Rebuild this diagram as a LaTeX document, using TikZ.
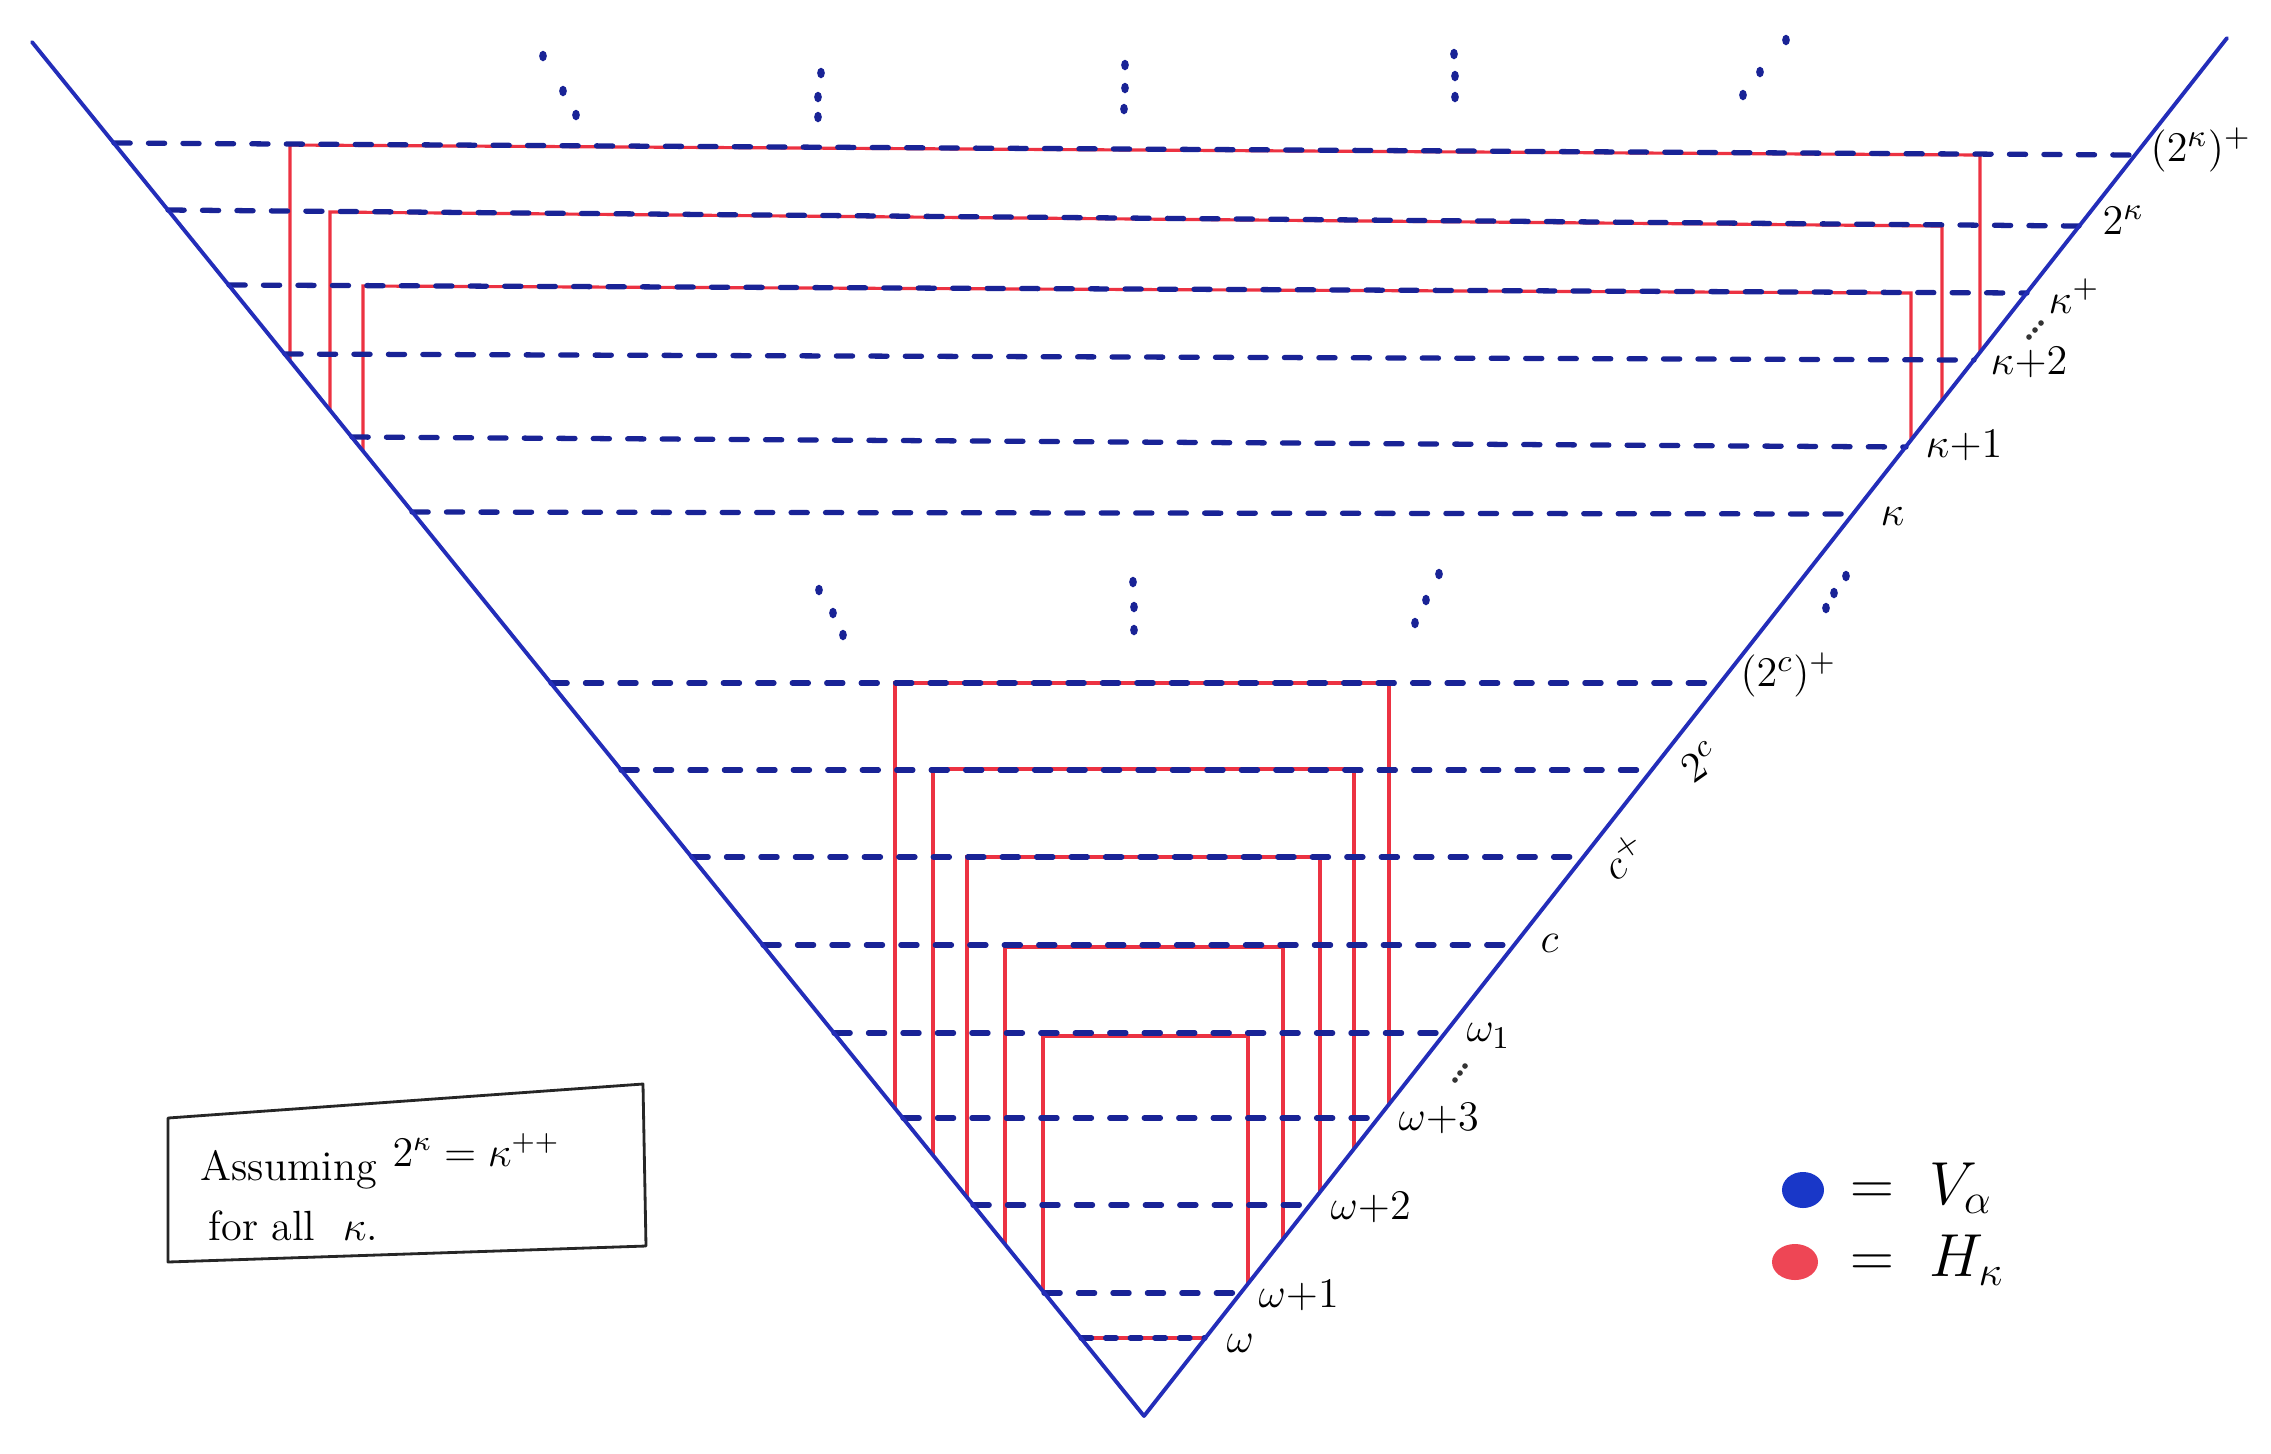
\documentclass[tikz,border=0pt]{standalone}
\definecolor{vline}{RGB}{35,45,185}
\definecolor{dashc}{RGB}{25,35,150}
\definecolor{redc}{RGB}{236,50,66}
\definecolor{blobb}{RGB}{25,55,200}
\begin{document}
\begin{tikzpicture}[x=0.01cm,y=-0.01cm,
  vedge/.style={draw=vline,line width=1.1pt,line cap=round,line join=round},
  vdash/.style={draw=dashc,line width=1.5pt,line cap=round,dash pattern=on 4.6pt off 5.2pt},
  hred/.style={draw=redc,line width=0.9pt},
  lbl/.style={anchor=west,inner sep=0pt,font=\fontsize{13}{15}\selectfont},
  note/.style={anchor=west,inner sep=0pt,font=\fontsize{12}{14}\selectfont},
  dotm/.style={fill=dashc}]
\useasboundingbox (0,0) rectangle (2271,1453);
\coordinate (L) at (32,42);
\coordinate (A) at (1144,1416);
\coordinate (R) at (2227,38);

% red boxes H_kappa (upper group)
\draw[hred] (290,361) -- (290,145) -- (1980,155) -- (1980,352);
\draw[hred] (330,410) -- (330,212) -- (1942,226) -- (1942,401);
\draw[hred] (363,451) -- (363,286) -- (1911,293) -- (1911,440);
% red boxes (lower group)
\draw[hred] (895,1108) -- (895,683) -- (1389,683) -- (1389,1104);
\draw[hred] (933,1155) -- (933,769) -- (1354,769) -- (1354,1149);
\draw[hred] (967,1197) -- (967,857) -- (1320,857) -- (1320,1192);
\draw[hred] (1005,1244) -- (1005,947) -- (1283,947) -- (1283,1239);
\draw[hred] (1043,1291) -- (1043,1036) -- (1248,1036) -- (1248,1284);
\draw[hred,line width=1.3pt] (1081,1338) -- (1205,1338);

% blue dashed levels V_alpha
\draw[vdash] (114,143) -- (2135,155);
\draw[vdash] (168,210) -- (2079,226);
\draw[vdash] (229,285) -- (2027,293);
\draw[vdash] (285,354) -- (1974,360);
\draw[vdash] (352,437) -- (1906,447);
\draw[vdash] (412,512) -- (1853,514);
\draw[vdash] (551,683) -- (1720,683);
\draw[vdash] (621,770) -- (1652,770);
\draw[vdash] (692,857) -- (1583,857);
\draw[vdash] (763,945) -- (1514,945);
\draw[vdash] (834,1033) -- (1445,1033);
\draw[vdash] (903,1118) -- (1378,1118);
\draw[vdash] (973,1205) -- (1310,1205);
\draw[vdash] (1044,1293) -- (1241,1293);
\draw[vdash,dash pattern=on 3pt off 4pt] (1081,1338) -- (1205,1338);

% the V
\draw[vedge] (L) -- (A) -- (R);

% labels
\node[lbl] (l1) at (2150,150) {$(2^{\kappa})^{+}$};
\node[lbl] (l2) at (2102,220) {$2^{\kappa}$};
\node[lbl] (l3) at (2048,296) {$\kappa^{+}$};
\node[lbl] (l4) at (1990,362) {$\kappa{+}2$};
\node[lbl] (l5) at (1925,445) {$\kappa{+}1$};
\node[lbl] (l6) at (1880,516) {$\kappa$};
\node[lbl] (l7) at (1740,675) {$(2^{c})^{+}$};
\node[lbl,anchor=center,rotate=35] (l8) at (1700,762) {$2^{c}$};
\node[lbl,anchor=center,rotate=35] (l9) at (1624,856) {$c^{+}$};
\node[lbl] (l10) at (1540,943) {$c$};
\node[lbl] (l11) at (1466,1036) {$\omega_1$};
\node[lbl] (l12) at (1398,1118) {$\omega{+}3$};
\node[lbl] (l13) at (1330,1207) {$\omega{+}2$};
\node[lbl] (l14) at (1258,1295) {$\omega{+}1$};
\node[lbl] (l15) at (1226,1343) {$\omega$};

% dots
\foreach \p in {(543,56),(563,91),(576,115),
                (821,73),(818,97),(818,117),
                (1125,65),(1125,88),(1124,109),
                (1454,54),(1455,76),(1455,97),
                (1786,40),(1760,72),(1743,95),
                (819,590),(833,613),(843,635),
                (1133,582),(1134,607),(1134,630),
                (1439,574),(1426,600),(1415,623),
                (1846,576),(1834,593),(1826,608)}
  \fill[dotm] \p ellipse[x radius=1.1pt,y radius=1.5pt];
\foreach \p in {(2029,337),(2035,330),(2041,323),(1455,1080),(1460,1073),(1465,1066)}
  \fill[black!80] \p circle[radius=0.8pt];

% assumption box
\draw[black!85,line width=0.8pt,line join=round] (168,1118) -- (643,1084) -- (646,1246) -- (168,1262) -- cycle;
\node[note] (asm) at (200,1170) {Assuming};
\node[note] (eq) at (392,1150) {$2^{\kappa}=\kappa^{++}$};
\node[note] (fa) at (208,1226) {for all\ \ $\kappa$.};

% legend
\fill[blobb] (1803,1190) ellipse[x radius=0.21cm,y radius=0.18cm];
\fill[redc!90] (1795,1262) ellipse[x radius=0.23cm,y radius=0.18cm];
\node[anchor=west,inner sep=0pt,font=\fontsize{17}{19}\selectfont] (lv) at (1850,1188) {$=\ V_{\alpha}$};
\node[anchor=west,inner sep=0pt,font=\fontsize{17}{19}\selectfont] (lh) at (1850,1260) {$=\ H_{\kappa}$};
\end{tikzpicture}
\end{document}
